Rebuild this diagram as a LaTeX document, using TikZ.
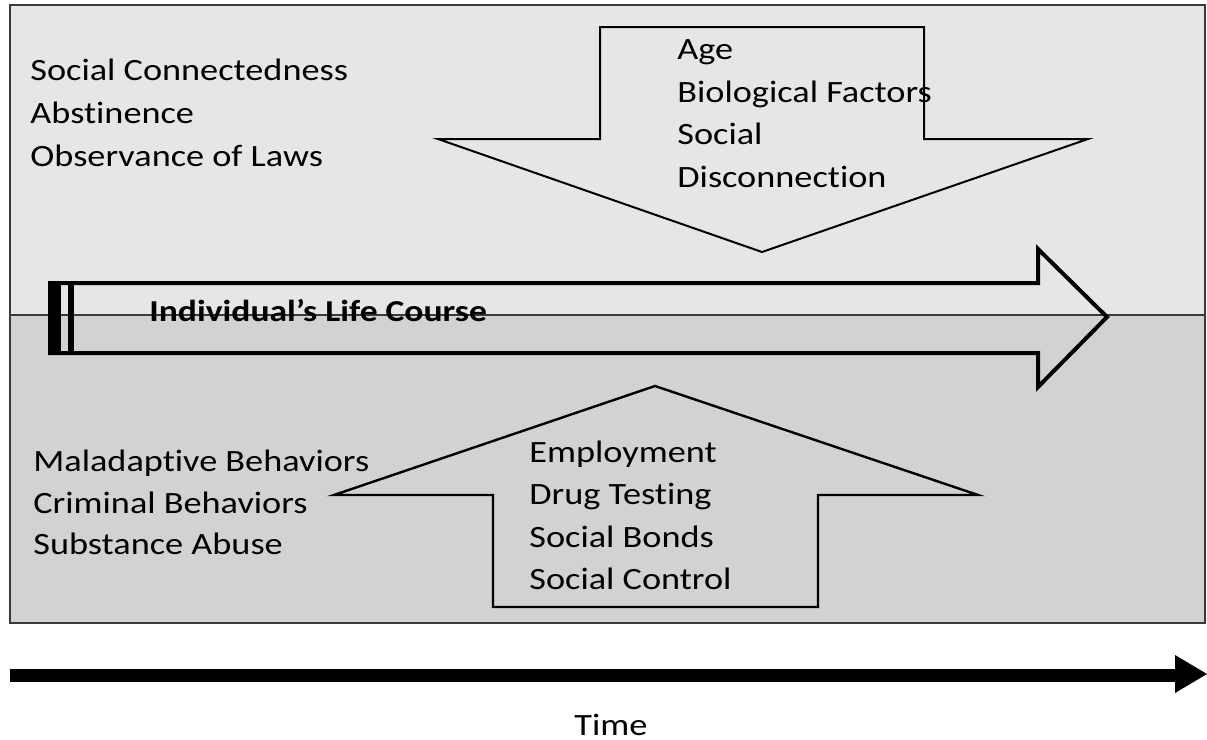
\documentclass[tikz,border=0pt]{standalone}
\usepackage{fontspec}
\setmainfont{Carlito}[FakeStretch=1.17,RawFeature={-liga;-clig;-calt;-dlig}]
\usetikzlibrary{calc}

\definecolor{topgray}{HTML}{E6E6E6}
\definecolor{botgray}{HTML}{D4D1D1}
\definecolor{edge}{HTML}{3A3A3A}

\begin{document}
\begin{tikzpicture}[x=0.5pt,y=-0.5pt,
	lbl/.style={anchor=base west,inner sep=0pt,font=\fontsize{15.5}{18}\selectfont},
	outline/.style={draw=black,line width=1pt,line join=miter}]
	\useasboundingbox (0,0) rectangle (1207,740);

	% panels
	\fill [topgray] (10,5) rectangle (1205,315);
	\fill [botgray] (10,315) rectangle (1205,623);
	\draw [edge,line width=0.75pt] (10,5) rectangle (1205,623);
	\draw [edge,line width=0.75pt] (10,315) -- (1205,315);

	% top arrow
	\draw [outline] (600,27) -- (924,27) -- (924,139) -- (1088,139) -- (762,252)
		-- (438,139) -- (600,139) -- cycle;
	% bottom arrow
	\draw [outline,line width=1.2pt] (493,607) -- (818,607) -- (818,495) -- (978,495)
		-- (655,386) -- (334,495) -- (493,495) -- cycle;

	% life course arrow
	\draw [outline,line width=2pt] (50,283) -- (1038,283) -- (1038,249) -- (1107,317)
		-- (1038,387) -- (1038,353) -- (50,353) -- cycle;
	\fill (50,283) rectangle (61,353);
	\fill (68,283) rectangle (74,353);
	\node [anchor=base west,inner sep=0pt,font=\fontsize{15.2}{18}\selectfont\bfseries](LIFE) at (149,321) {Individual’s Life Course};

	% top texts
	\node [lbl](SC) at (30,80) {Social Connectedness};
	\node [lbl](AB) at (30,123) {Abstinence};
	\node [lbl](OL) at (30,166) {Observance of Laws};
	\node [lbl](AGE) at (677,59) {Age};
	\node [lbl](BIO) at (677,102) {Biological Factors};
	\node [lbl](SOC) at (677,144) {Social};
	\node [lbl](DIS) at (677,187) {Disconnection};

	% bottom texts
	\node [lbl](MAL) at (33,471) {Maladaptive Behaviors};
	\node [lbl](CRI) at (33,513) {Criminal Behaviors};
	\node [lbl](SUB) at (33,554) {Substance Abuse};
	\node [lbl](EMP) at (529,462) {Employment};
	\node [lbl](DRU) at (529,504) {Drug Testing};
	\node [lbl](BON) at (529,547) {Social Bonds};
	\node [lbl](CON) at (529,589) {Social Control};

	% time axis
	\coordinate (T0) at (10,675);
	\coordinate (T1) at (1177,675);
	\draw [line width=6.5pt] (T0) -- (T1);
	\fill (1175,655) -- (1207,674) -- (1175,693) -- cycle;
	\node [anchor=base,inner sep=0pt,font=\fontsize{15.5}{18}\selectfont](TIME) at (611,735) {Time};
\end{tikzpicture}
\end{document}
